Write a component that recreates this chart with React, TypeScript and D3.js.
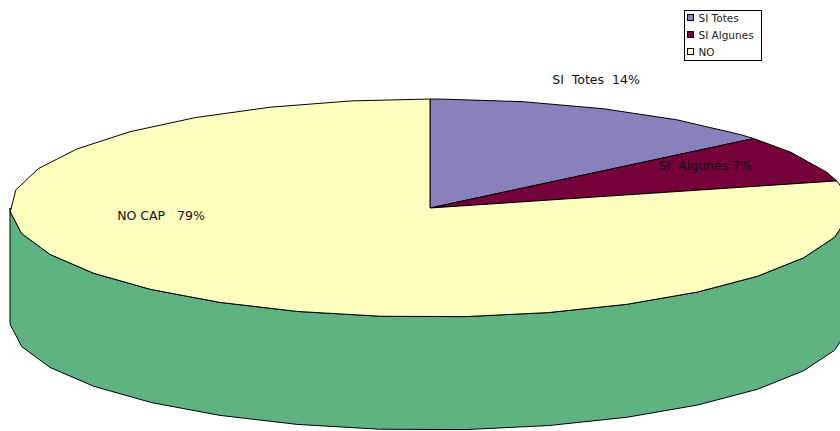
import React, { useEffect, useRef } from "react";
import * as d3 from "d3";

const categories = ["SI Totes", "SI Algunes", "NO"];
const values = [14, 7, 79];
const sliceLabels = ["SI  Totes  14%", "SI  Algunes 7%", "NO CAP   79%"];
const labelPos = [
  [596, 80],
  [752, 166],
  [161, 216],
];
const colors = ["#8a80bb", "#76003a", "#ffffc0"];
const wallColor = "#5fb383";

const width = 840;
const height = 431;
const cx = 430;
const cy = 208;
const rx = 420;
const ry = 109;
const depth = 113;

export default function App() {
  const chartRef = useRef<SVGSVGElement>(null);

  useEffect(() => {
    const chart = d3.select(chartRef.current);
    chart.selectAll("*").remove();

    const x = d3.scaleLinear().domain([-1, 1]).range([cx - rx, cx + rx]);
    const y = d3.scaleLinear().domain([-1, 1]).range([cy - ry, cy + ry]);
    const point = (a: number, dy = 0): [number, number] => [
      x(Math.sin(a)),
      y(-Math.cos(a)) + dy,
    ];

    // the outline is a coarse polygon, not a true ellipse
    const step = (11.6 * Math.PI) / 180;
    const offset = (1.2 * Math.PI) / 180;
    const between = (a0: number, a1: number) => {
      const inner = d3
        .range(0, 32)
        .map((i) => offset + i * step)
        .filter((a) => a > a0 + 0.005 && a < a1 - 0.005);
      return [a0, ...inner, a1];
    };

    const line = d3.line();

    // side wall, lower half of the rim
    const rim = between(Math.PI / 2, (3 * Math.PI) / 2);
    const wall = [
      ...rim.map((a) => point(a)),
      ...rim
        .slice()
        .reverse()
        .map((a) => point(a, depth)),
    ];
    chart
      .append("path")
      .attr("d", line(wall) + "Z")
      .attr("fill", wallColor)
      .attr("stroke", "#000")
      .attr("stroke-width", 1);

    const pie = d3.pie<number>().sort(null).value((d) => d);
    const slices = pie(values);

    chart
      .append("g")
      .selectAll("path")
      .data(slices)
      .enter()
      .append("path")
      .attr("d", (d) => {
        const pts = between(d.startAngle, d.endAngle).map((a) => point(a));
        return line([[cx, cy], ...pts]) + "Z";
      })
      .attr("fill", (d, i) => colors[i])
      .attr("stroke", "#000")
      .attr("stroke-width", 1)
      .attr("stroke-linejoin", "round");

    chart
      .append("g")
      .selectAll("text")
      .data(sliceLabels)
      .enter()
      .append("text")
      .attr("x", (d, i) => labelPos[i][0])
      .attr("y", (d, i) => labelPos[i][1])
      .attr("text-anchor", (d, i) => (i === 1 ? "end" : "middle"))
      .attr("dominant-baseline", "middle")
      .attr("xml:space", "preserve")
      .style("white-space", "pre")
      .attr("font-family", "DejaVu Sans")
      .attr("font-size", 12.5)
      .attr("fill", "#111")
      .text((d) => d);

    // legend
    const legend = chart.append("g").attr("transform", "translate(684.5, 10.5)");
    legend
      .append("rect")
      .attr("width", 77)
      .attr("height", 50)
      .attr("fill", "#fff")
      .attr("stroke", "#000")
      .attr("stroke-width", 1);
    const rows = legend
      .selectAll("g")
      .data(categories)
      .enter()
      .append("g")
      .attr("transform", (d, i) => `translate(3, ${4 + i * 17})`);
    rows
      .append("rect")
      .attr("width", 6)
      .attr("height", 6)
      .attr("fill", (d, i) => colors[i])
      .attr("stroke", "#000");
    rows
      .append("text")
      .attr("x", 11)
      .attr("y", 4)
      .attr("dominant-baseline", "middle")
      .attr("font-family", "DejaVu Sans")
      .attr("font-size", 10.5)
      .attr("fill", "#222")
      .text((d) => d);
  }, []);

  return (
    <svg
      ref={chartRef}
      width={width}
      height={height}
      viewBox={`0 0 ${width} ${height}`}
      style={{ position: "absolute", left: 0, top: 0, background: "#fff" }}
    />
  );
}
